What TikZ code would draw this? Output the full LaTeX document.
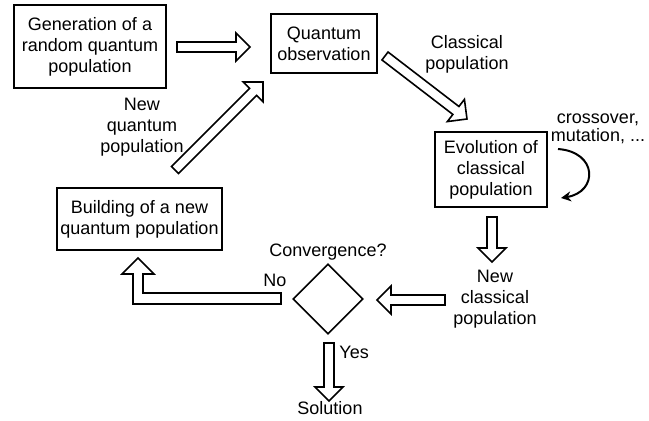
\documentclass[tikz,border=0pt]{standalone}
\usepackage{fontspec}
\setmainfont{Liberation Sans}
\usetikzlibrary{shapes.geometric, arrows.meta, positioning, calc}

\newcommand{\blockarrow}[2]{%
  \draw[blk] ($(#1)!2.5pt!90:(#2)$) -- ($(#2)!7pt!(#1)!2.5pt!-90:(#1)$)
    -- ($(#2)!7pt!(#1)!7pt!-90:(#1)$) -- (#2)
    -- ($(#2)!7pt!(#1)!7pt!90:(#1)$) -- ($(#2)!7pt!(#1)!2.5pt!90:(#1)$)
    -- ($(#1)!2.5pt!-90:(#2)$) -- cycle;}

\begin{document}
\begin{tikzpicture}[x=0.5pt, y=-0.5pt,
  box/.style={rectangle, draw=black, line width=1pt, align=center,
              font=\fontsize{9}{10.5}\selectfont, inner sep=1pt},
  lbl/.style={align=center, font=\fontsize{9}{10.5}\selectfont, inner sep=0pt},
  blk/.style={draw=black, line width=0.8pt, fill=white, line join=miter},
  decision/.style={diamond, draw=black, line width=0.8pt, minimum width=35pt,
                   minimum height=35pt, inner sep=0pt},
  curv/.style={-{Stealth[length=5pt, width=5pt]}, line width=1pt}
]
\path[fill=white] (0,0) rectangle (649,421);
\useasboundingbox (0,0) rectangle (649,421);

\node[box, minimum width=76pt, minimum height=41.5pt] (gen) at (90,46.5)
  {Generation of a\\random quantum\\population};
\node[box, minimum width=53pt, minimum height=29.5pt] (obs) at (324,43.5)
  {Quantum\\observation};
\node[box, minimum width=56pt, minimum height=37.5pt] (evo) at (491,169.5)
  {Evolution of\\classical\\population};
\node[box, minimum width=82.5pt, minimum height=31pt] (build) at (139.5,219)
  {Building of a new\\quantum population};
\node[decision] (conv) at (328,299) {};

\node[lbl] (nqpop) at (142,127) {New\\quantum\\population};
\node[lbl] (cpop) at (467,54) {Classical\\population};
\node[lbl, font=\fontsize{9}{9}\selectfont] (ops) at (598,129) {crossover,\\mutation, ...};
\node[lbl] (ncpop) at (495,299) {New\\classical\\population};
\node[lbl] (convq) at (328,252) {Convergence?};
\node[lbl] (no) at (275,280) {No};
\node[lbl, anchor=west] (yes) at (339,352) {Yes};
\node[lbl] (sol) at (330,408) {Solution};

\coordinate (a1s) at (177,47);
\coordinate (a1e) at (250,47);
\coordinate (a2s) at (175,170);
\coordinate (a2e) at (263,82);
\coordinate (a3s) at (385,56);
\coordinate (a3e) at (467,119);
\coordinate (a4s) at (492,217);
\coordinate (a4e) at (492,262);
\coordinate (a5s) at (445,300);
\coordinate (a5e) at (377,300);
\coordinate (a6s) at (329,343);
\coordinate (a6e) at (329,401);
\coordinate (nos) at (281,298.5);
\coordinate (not) at (138,258);
\coordinate (cvs) at (558,149);
\coordinate (cve) at (561,198);

\blockarrow{a1s}{a1e}
\blockarrow{a2s}{a2e}
\blockarrow{a3s}{a3e}
\blockarrow{a4s}{a4e}
\blockarrow{a5s}{a5e}
\blockarrow{a6s}{a6e}
\draw[blk] ($(nos)+(0,-5.5)$) -- ($(not |- nos)+(5,-5.5)$) -- ($(not)+(5,16)$)
  -- ($(not)+(16,16)$) -- (not) -- ($(not)+(-16,16)$) -- ($(not)+(-5,16)$)
  -- ($(not |- nos)+(-5,5.5)$) -- ($(nos)+(0,5.5)$) -- cycle;

\draw[curv] (cvs) .. controls +(40,3) and +(37,-6) .. (cve);

\end{tikzpicture}
\end{document}
